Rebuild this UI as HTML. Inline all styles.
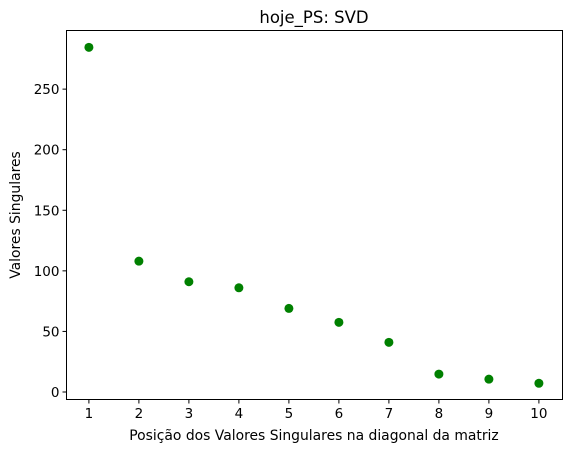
<!DOCTYPE html>
<html><head><meta charset="utf-8"><style>body{margin:0;background:#fff}svg{font-family:"DejaVu Sans","Liberation Sans",sans-serif}</style></head>
<body>
<svg id="c" width="571" height="453" xmlns="http://www.w3.org/2000/svg"></svg>
<script>
const positions=[1,2,3,4,5,6,7,8,9,10];
const values=[284.5,108,91,86,69,57.5,41,14.8,10.6,7.2];
const yTicks=[0,50,100,150,200,250];
const L=66.5,R=562.5,T=30.5,B=399.5;
const x=v=>88.9+(v-1)*50;
const y=v=>392+(-v)*1.2115;
const s=document.getElementById('c'),NS='http://www.w3.org/2000/svg';
function mk(t,a,txt){const e=document.createElementNS(NS,t);for(const k in a)e.setAttribute(k,a[k]);if(txt!=null)e.textContent=txt;s.appendChild(e);return e;}
let f=mk('rect',{x:L,y:T,width:R-L,height:B-T,fill:'none',stroke:'#000','stroke-width':1});


positions.forEach(p=>{
 const l=mk('line',{x1:x(p),x2:x(p),y1:B,y2:B+4,stroke:'#000'});
 
 
 const t=mk('text',{x:x(p),y:B+18.5,'text-anchor':'middle','font-size':13.5},p);
 
 
});
yTicks.forEach(v=>{
 const l=mk('line',{x1:L-4,x2:L,y1:y(v),y2:y(v),stroke:'#000'});
 
 
 const t=mk('text',{x:L-7,y:y(v)+5,'text-anchor':'end','font-size':13.5},v);
 
 
});
values.forEach((v,i)=>{
 const c=mk('circle',{cx:x(positions[i]),cy:y(v),r:4.5,fill:'#008000'});
 
 
});
let t=mk('text',{x:314,y:23,'text-anchor':'middle','font-size':16.5},'hoje_PS: SVD');


t=mk('text',{x:314,y:440,'text-anchor':'middle','font-size':13.9},'Posição dos Valores Singulares na diagonal da matriz');


t=mk('text',{x:20,y:215,'text-anchor':'middle','font-size':13.9,transform:'rotate(-90 20 215)'},'Valores Singulares');


</script>
</body></html>
